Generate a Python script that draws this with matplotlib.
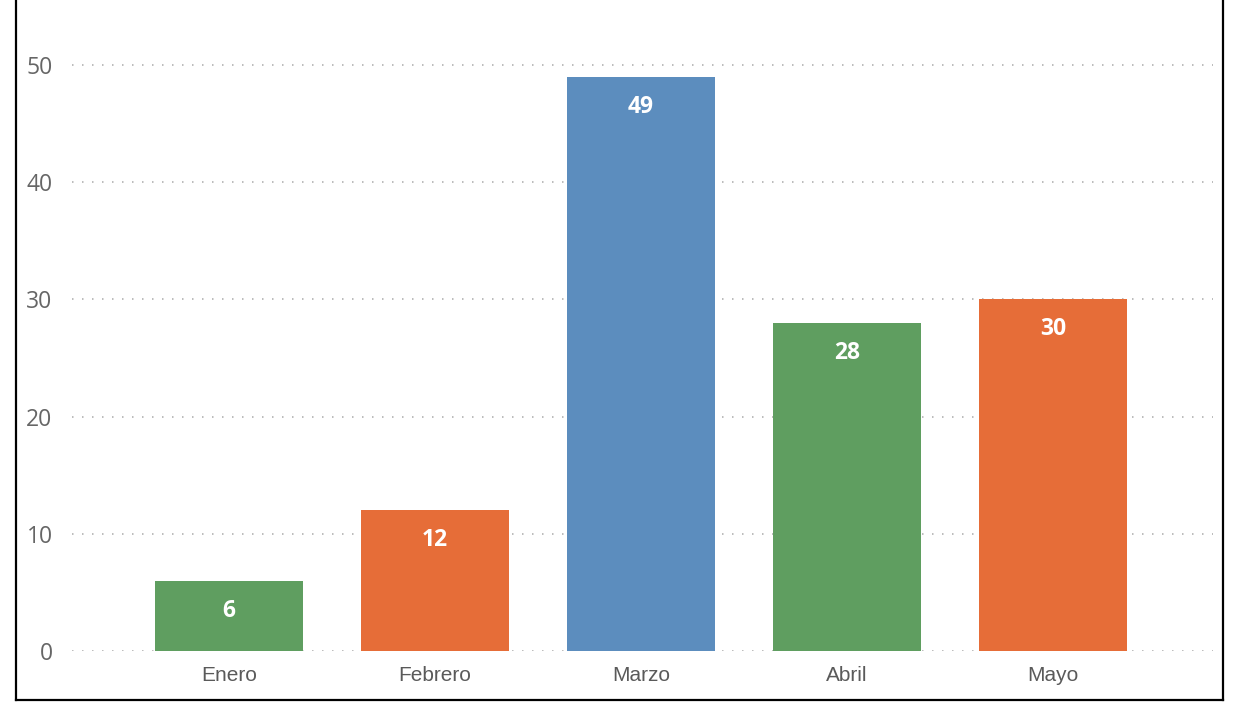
import matplotlib.pyplot as plt
from matplotlib.lines import Line2D

meses = ["Enero", "Febrero", "Marzo", "Abril", "Mayo"]
valores = [6, 12, 49, 28, 30]
colores = ["#5F9E60", "#E66D38", "#5C8DBE", "#5F9E60", "#E66D38"]
yticks = [0, 10, 20, 30, 40, 50]

fig = plt.figure(figsize=(12.41, 7.05), dpi=100)
ax = fig.add_axes([72 / 1241, 54 / 705, 1141 / 1241, 644.6 / 705])

pos = list(range(len(meses)))
bars = ax.bar(pos, valores, width=148 / 206, color=colores, zorder=3)

for b, v in zip(bars, valores):
    ax.annotate(str(v), (b.get_x() + b.get_width() / 2, v),
                xytext=(0, -21.5), textcoords="offset points",
                ha="center", va="center", color="white",
                fontsize=16.5, fontweight="bold", family="Open Sans", zorder=4)

ax.set_xlim(-0.762, 4.777)
ax.set_ylim(0, 55)
ax.set_yticks(yticks)
ax.set_xticks(pos)
ax.set_xticklabels(meses, family="Liberation Sans", fontsize=15, color="#5a5a5a")
ax.set_yticklabels([str(t) for t in yticks], family="Open Sans", fontsize=16.5, color="#666666")
ax.tick_params(axis="both", length=0)
ax.tick_params(axis="y", pad=14)
ax.tick_params(axis="x", pad=11)

ax.grid(axis="y", color="#b0b0b0", linewidth=1.2, linestyle=(0, (0.9, 5.1)), zorder=0)
for s in ax.spines.values():
    s.set_visible(False)

# marco negro alrededor (el borde superior queda fuera de la imagen)
px = lambda x: x / 1241
py = lambda y: 1 - y / 705
for xs, ys in [([16, 16], [-5, 700]), ([1223, 1223], [-5, 700]), ([16, 1223], [700, 700])]:
    fig.add_artist(Line2D([px(x) for x in xs], [py(y) for y in ys],
                          transform=fig.transFigure, color="black", lw=1.6))

fig.savefig("out.png", dpi=100, facecolor="white")
